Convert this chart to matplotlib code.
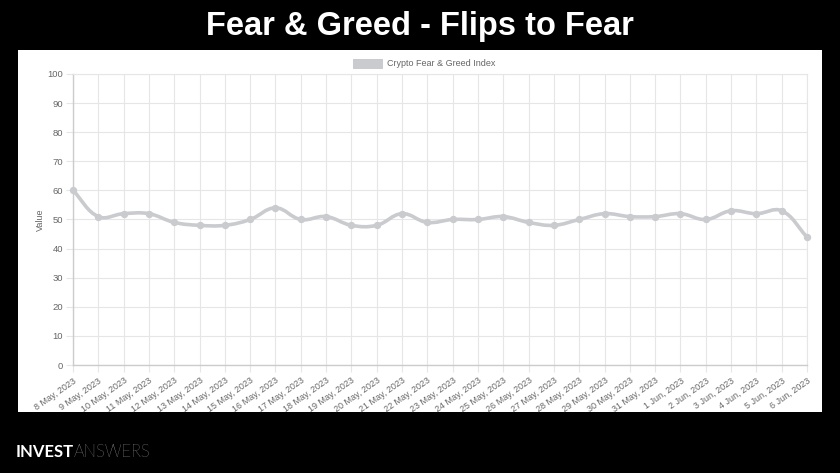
import matplotlib.pyplot as plt
import numpy as np
from matplotlib.path import Path
from matplotlib.patches import PathPatch, Rectangle

# datos
fechas = ['8 May, 2023', '9 May, 2023', '10 May, 2023', '11 May, 2023', '12 May, 2023',
          '13 May, 2023', '14 May, 2023', '15 May, 2023', '16 May, 2023', '17 May, 2023',
          '18 May, 2023', '19 May, 2023', '20 May, 2023', '21 May, 2023', '22 May, 2023',
          '23 May, 2023', '24 May, 2023', '25 May, 2023', '26 May, 2023', '27 May, 2023',
          '28 May, 2023', '29 May, 2023', '30 May, 2023', '31 May, 2023', '1 Jun, 2023',
          '2 Jun, 2023', '3 Jun, 2023', '4 Jun, 2023', '5 Jun, 2023', '6 Jun, 2023']
valores = [60, 51, 52, 52, 49, 48, 48, 50, 54, 50,
           51, 48, 48, 52, 49, 50, 50, 51, 49, 48,
           50, 52, 51, 51, 52, 50, 53, 52, 53, 44]
y_ticks = list(range(0, 101, 10))

gris = '#c9cbcf'
texto = '#666666'
plt.rcParams['font.family'] = ['Liberation Sans', 'DejaVu Sans']

fig = plt.figure(figsize=(8.4, 4.73), dpi=100, facecolor='black')

# panel blanco
fig.patches.append(Rectangle((18 / 840, 1 - 412 / 473), 804 / 840, 362 / 473,
                             transform=fig.transFigure, facecolor='white',
                             edgecolor='none', zorder=-5))

ax = fig.add_axes([0.0869, 0.2283, 0.8738, 0.6153])
ax.set_facecolor('white')
x = np.arange(len(valores))
y = np.array(valores, dtype=float)
ax.set_xlim(0, len(valores) - 1)
ax.set_ylim(0, 100)

# curva suavizada estilo Chart.js (tension 0.4) en escala de pixeles
sx, sy = 25.3, 2.91
px, py = x * sx, y * sy
verts = [(x[0], y[0])]
codes = [Path.MOVETO]
ctrl = []
for i in range(len(x)):
    a = max(i - 1, 0)
    b = min(i + 1, len(x) - 1)
    d01 = np.hypot(px[i] - px[a], py[i] - py[a])
    d12 = np.hypot(px[b] - px[i], py[b] - py[i])
    s = d01 + d12 if d01 + d12 > 0 else 1
    fa, fb = 0.4 * d01 / s, 0.4 * d12 / s
    prev_c = (x[i] - fa * (x[b] - x[a]), y[i] - fa * (y[b] - y[a]))
    next_c = (x[i] + fb * (x[b] - x[a]), y[i] + fb * (y[b] - y[a]))
    ctrl.append((prev_c, next_c))
for i in range(1, len(x)):
    verts += [ctrl[i - 1][1], ctrl[i][0], (x[i], y[i])]
    codes += [Path.CURVE4] * 3
ax.add_patch(PathPatch(Path(verts, codes), facecolor='none', edgecolor=gris,
                       lw=2.6, zorder=3, clip_on=False))
ax.plot(x, y, 'o', color=gris, ms=4.3, zorder=4, clip_on=False)

# ejes y rejilla
ax.set_xticks(x)
ax.set_xticklabels(fechas, rotation=35, ha='right', rotation_mode='anchor',
                   fontsize=6.5, color=texto)
ax.set_yticks(y_ticks)
ax.set_yticklabels([str(v) for v in y_ticks], fontsize=6.8, color=texto)
ax.grid(True, color='#e6e6e6', lw=0.8)
ax.set_axisbelow(True)
ax.tick_params(length=5, color='#e6e6e6', width=0.8, pad=2)
ax.tick_params(axis='x', pad=3)
for lado in ['top', 'right']:
    ax.spines[lado].set_color('#e6e6e6')
    ax.spines[lado].set_linewidth(0.8)
for lado in ['left', 'bottom']:
    ax.spines[lado].set_color('#cccccc')
    ax.spines[lado].set_linewidth(1.0)
ax.set_ylabel('Value', fontsize=6.5, color=texto, labelpad=2)

# leyenda
fig.patches.append(Rectangle((353 / 840, 1 - 69 / 473), 30 / 840, 10 / 473,
                             transform=fig.transFigure, facecolor=gris,
                             edgecolor='none', zorder=2))
fig.text(387 / 840, 1 - 64 / 473, 'Crypto Fear & Greed Index', fontsize=6.5,
         color=texto, va='center', ha='left')

# titulo
fig.text(0.5, 1 - 35 / 473, 'Fear & Greed - Flips to Fear', fontsize=23.5,
         fontweight='bold', color='white', ha='center', va='baseline',
         family='Liberation Sans')

# logo
t1 = fig.text(16 / 840, 1 - 452 / 473, 'INVEST', fontsize=12, fontweight='bold',
              color='white', va='center', ha='left', family='Lato')
fig.canvas.draw()
bb = t1.get_window_extent()
fig.text(bb.x1 / 840, 1 - 452 / 473, 'ANSWERS', fontsize=12, fontweight='light',
         color='#e8e8e8', va='center', ha='left', family='Lato')

plt.savefig('out.png', dpi=100, facecolor='black')
